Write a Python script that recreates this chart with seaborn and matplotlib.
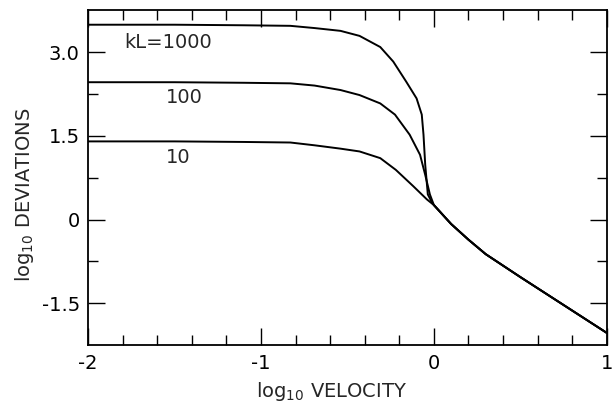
import numpy as np
import pandas as pd
import matplotlib
matplotlib.use("Agg")
import matplotlib.pyplot as plt
import seaborn as sns
from matplotlib.ticker import MultipleLocator, FixedLocator

# values (log10 velocity, log10 deviations)
vel_1000 = [-2.0, -1.5, -1.1, -0.83, -0.69, -0.54, -0.43, -0.31, -0.235, -0.16, -0.10, -0.07, -0.06, -0.05, -0.035, -0.01]
dev_1000 = [3.49, 3.49, 3.48, 3.47, 3.43, 3.38, 3.29, 3.09, 2.83, 2.47, 2.17, 1.88, 1.52, 0.98, 0.45, 0.30]

vel_100 = [-2.0, -1.5, -1.1, -0.83, -0.69, -0.54, -0.43, -0.31, -0.225, -0.14, -0.08, -0.05, -0.023]
dev_100 = [2.46, 2.46, 2.45, 2.44, 2.40, 2.32, 2.23, 2.08, 1.88, 1.52, 1.16, 0.80, 0.45]

vel_10 = [-2.0, -1.5, -1.1, -0.83, -0.69, -0.54, -0.43, -0.31, -0.22, -0.12, -0.04]
dev_10 = [1.40, 1.40, 1.39, 1.38, 1.33, 1.27, 1.22, 1.10, 0.89, 0.60, 0.36]

# common branch once the curves merge
vel_tail = [0.0, 0.1, 0.2, 0.3, 0.5, 0.75, 1.0]
dev_tail = [0.26, -0.08, -0.36, -0.62, -1.03, -1.53, -2.03]

kl_values = [1000, 100, 10]
kl_labels = ["kL=1000", "100", "10"]

frames = []
for kl, v, d in zip(kl_values, [vel_1000, vel_100, vel_10], [dev_1000, dev_100, dev_10]):
    frames.append(pd.DataFrame({"velocity": v + vel_tail, "deviation": d + dev_tail, "kL": kl}))
df = pd.concat(frames, ignore_index=True)

sns.set_style("ticks")
plt.rcParams["font.family"] = ["DejaVu Sans"]
plt.rcParams["axes.unicode_minus"] = False

fig = plt.figure(figsize=(6.16, 4.08), dpi=100)
ax = fig.add_axes([0.143, 0.154, 0.842, 0.821])

sns.lineplot(data=df, x="velocity", y="deviation", hue="kL", units="kL", estimator=None,
             palette={1000: "black", 100: "black", 10: "black"}, legend=False,
             linewidth=1.4, ax=ax)

ax.set_xlim(-2, 1)
ax.set_ylim(-2.25, 3.75)
ax.xaxis.set_major_locator(FixedLocator([-2, -1, 0, 1]))
ax.xaxis.set_minor_locator(MultipleLocator(0.2))
ax.yaxis.set_major_locator(FixedLocator([-1.5, 0, 1.5, 3.0]))
ax.yaxis.set_minor_locator(FixedLocator([-0.75, 0.75, 2.25]))
ax.set_xticklabels(["-2", "-1", "0", "1"])
ax.set_yticklabels(["-1.5", "0", "1.5", "3.0"])

ax.tick_params(which="both", direction="in", top=True, right=True, labelsize=14,
               colors="black", width=1.0)
ax.tick_params(which="major", length=12, pad=6)
ax.tick_params(which="minor", length=7)
for s in ax.spines.values():
    s.set_linewidth(1.3)
    s.set_color("black")

# curve labels
ax.text(-1.79, 3.18, kl_labels[0], fontsize=14, va="center", ha="left")
ax.text(-1.55, 2.19, kl_labels[1], fontsize=14, va="center", ha="left")
ax.text(-1.55, 1.12, kl_labels[2], fontsize=14, va="center", ha="left")

ax.set_xlabel(r"log$_{\mathregular{10}}$ VELOCITY", fontsize=14)
ax.set_ylabel(r"log$_{\mathregular{10}}$ DEVIATIONS", fontsize=14)
ax.xaxis.set_label_coords(0.47, -0.105)
ax.yaxis.set_label_coords(-0.10, 0.45)

fig.savefig("out.png", dpi=100)
